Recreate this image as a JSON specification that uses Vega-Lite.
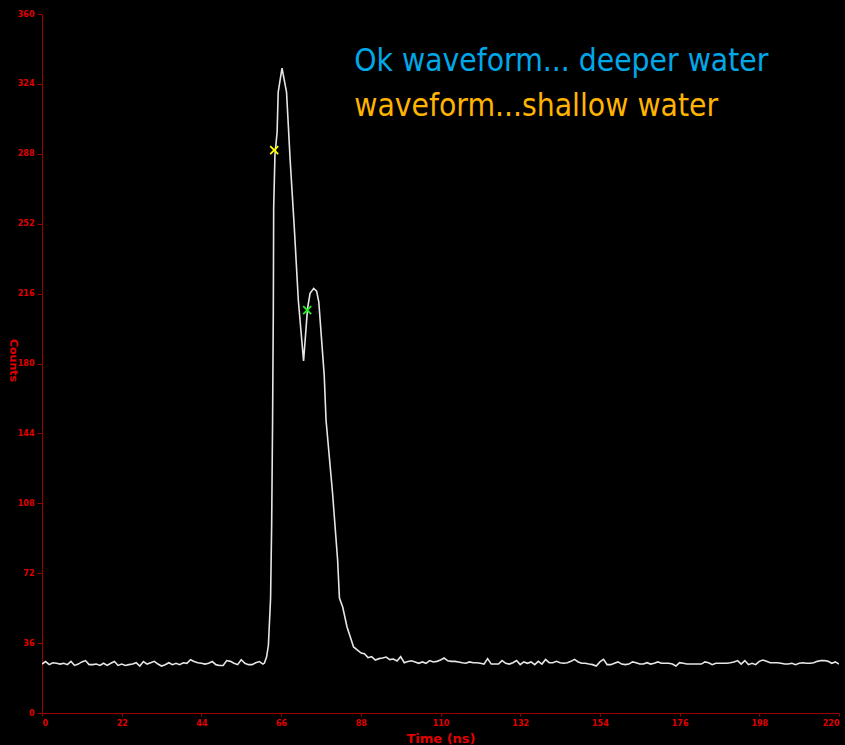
{
  "$schema": "https://vega.github.io/schema/vega-lite/v6.json",
  "autosize": {"type": "none"},
  "width": 797,
  "height": 699,
  "padding": {"left": 42, "top": 14, "right": 6, "bottom": 32},
  "background": "#000000",
  "config": {
    "view": {"stroke": null},
    "axis": {
      "grid": false,
      "domainColor": "#990000",
      "tickColor": "#990000",
      "labelColor": "#e00000",
      "labelFont": "DejaVu Sans",
      "labelFontWeight": "bold",
      "labelFontSize": 8,
      "titleColor": "#e00000",
      "titleFont": "DejaVu Sans",
      "titleFontWeight": "bold"
    }
  },
  "datasets": {
    "wave": [
      {"t":0,"c":25.2},{"t":1,"c":26.5},{"t":2,"c":24.9},{"t":3,"c":25.9},{"t":4,"c":25.6},{"t":5,"c":25.2},{"t":6,"c":25.6},{"t":7,"c":24.9},{"t":8,"c":26.6},{"t":9,"c":24.5},
      {"t":10,"c":25.2},{"t":11,"c":26.3},{"t":12,"c":27.0},{"t":13,"c":24.9},{"t":14,"c":24.9},{"t":15,"c":25.2},{"t":16,"c":24.5},{"t":17,"c":25.6},{"t":18,"c":24.5},{"t":19,"c":25.6},
      {"t":20,"c":26.5},{"t":21,"c":24.5},{"t":22,"c":25.2},{"t":23,"c":24.5},{"t":24,"c":24.9},{"t":25,"c":25.2},{"t":26,"c":25.9},{"t":27,"c":24.2},{"t":28,"c":26.5},{"t":29,"c":25.2},
      {"t":30,"c":25.9},{"t":31,"c":26.6},{"t":32,"c":25.2},{"t":33,"c":24.2},{"t":34,"c":24.9},{"t":35,"c":25.9},{"t":36,"c":24.9},{"t":37,"c":25.6},{"t":38,"c":24.9},{"t":39,"c":25.9},
      {"t":40,"c":25.6},{"t":41,"c":27.4},{"t":42,"c":26.5},{"t":43,"c":25.9},{"t":44,"c":25.6},{"t":45,"c":25.2},{"t":46,"c":25.6},{"t":47,"c":26.5},{"t":48,"c":24.9},{"t":49,"c":24.5},
      {"t":50,"c":24.5},{"t":51,"c":27.0},{"t":52,"c":26.6},{"t":53,"c":25.6},{"t":54,"c":24.9},{"t":55,"c":27.4},{"t":56,"c":25.6},{"t":57,"c":24.9},{"t":58,"c":24.9},{"t":59,"c":25.9},
      {"t":60,"c":26.5},{"t":61,"c":25.2},{"t":61.4,"c":25.7},{"t":62.0,"c":28.9},{"t":62.5,"c":35.0},{"t":63.1,"c":59.2},{"t":63.4,"c":97.8},{"t":63.65,"c":150.9},{"t":63.85,"c":206.5},{"t":63.95,"c":260.0},
      {"t":64.3,"c":287.3},{"t":64.9,"c":299.2},{"t":65.2,"c":319.8},{"t":66.25,"c":332.1},{"t":67.5,"c":319.8},{"t":68.5,"c":284.8},{"t":69.65,"c":249.7},{"t":70.75,"c":212.7},{"t":72.2,"c":181.3},{"t":73.3,"c":208.4},
      {"t":74.0,"c":216.1},{"t":75.0,"c":218.7},{"t":75.8,"c":217.3},{"t":76.4,"c":211.8},{"t":77.9,"c":174.0},{"t":78.4,"c":150.9},{"t":80.2,"c":113.3},{"t":81.6,"c":78.8},{"t":82.1,"c":59.2},{"t":83.0,"c":54.6},
      {"t":84.2,"c":44.3},{"t":86.0,"c":34.0},{"t":88.1,"c":30.9},{"t":89,"c":30.5},{"t":90,"c":28.5},{"t":91,"c":29.0},{"t":92,"c":27.3},{"t":93,"c":28.0},{"t":94,"c":28.3},{"t":95,"c":28.8},
      {"t":96,"c":27.5},{"t":97,"c":27.8},{"t":98,"c":26.8},{"t":99,"c":29.0},{"t":100,"c":25.9},{"t":101,"c":26.5},{"t":102,"c":26.9},{"t":103,"c":26.3},{"t":104,"c":25.6},{"t":105,"c":26.3},
      {"t":106,"c":25.6},{"t":107,"c":27.0},{"t":108,"c":26.3},{"t":109,"c":26.6},{"t":110,"c":27.3},{"t":111,"c":28.3},{"t":112,"c":26.9},{"t":113,"c":26.6},{"t":114,"c":26.6},{"t":115,"c":26.3},
      {"t":116,"c":25.9},{"t":117,"c":25.6},{"t":118,"c":26.3},{"t":119,"c":25.9},{"t":120,"c":25.9},{"t":121,"c":25.6},{"t":122,"c":25.2},{"t":123,"c":28.0},{"t":124,"c":25.2},{"t":125,"c":25.2},
      {"t":126,"c":25.2},{"t":127,"c":27.0},{"t":128,"c":25.6},{"t":129,"c":25.2},{"t":130,"c":25.9},{"t":131,"c":27.0},{"t":132,"c":24.9},{"t":133,"c":26.3},{"t":134,"c":25.6},{"t":135,"c":26.3},
      {"t":136,"c":24.9},{"t":137,"c":26.6},{"t":138,"c":25.2},{"t":139,"c":27.6},{"t":140,"c":25.9},{"t":141,"c":25.9},{"t":142,"c":26.6},{"t":143,"c":25.9},{"t":144,"c":25.6},{"t":145,"c":25.9},
      {"t":146,"c":26.6},{"t":147,"c":27.6},{"t":148,"c":26.3},{"t":149,"c":25.6},{"t":150,"c":25.6},{"t":151,"c":25.2},{"t":152,"c":24.9},{"t":153,"c":24.2},{"t":154,"c":26.3},{"t":155,"c":27.6},
      {"t":156,"c":24.9},{"t":157,"c":24.9},{"t":158,"c":25.6},{"t":159,"c":26.3},{"t":160,"c":25.2},{"t":161,"c":24.9},{"t":162,"c":25.2},{"t":163,"c":26.3},{"t":164,"c":25.9},{"t":165,"c":25.2},
      {"t":166,"c":25.2},{"t":167,"c":25.9},{"t":168,"c":25.2},{"t":169,"c":25.6},{"t":170,"c":26.3},{"t":171,"c":25.6},{"t":172,"c":25.6},{"t":173,"c":25.6},{"t":174,"c":25.2},{"t":175,"c":24.2},
      {"t":176,"c":25.9},{"t":177,"c":25.6},{"t":178,"c":25.2},{"t":179,"c":25.2},{"t":180,"c":25.2},{"t":181,"c":25.2},{"t":182,"c":25.2},{"t":183,"c":26.3},{"t":184,"c":25.9},{"t":185,"c":24.9},
      {"t":186,"c":25.6},{"t":187,"c":25.6},{"t":188,"c":25.6},{"t":189,"c":25.6},{"t":190,"c":25.9},{"t":191,"c":26.3},{"t":192,"c":27.0},{"t":193,"c":25.2},{"t":194,"c":27.0},{"t":195,"c":24.9},
      {"t":196,"c":25.6},{"t":197,"c":24.9},{"t":198,"c":26.6},{"t":199,"c":27.3},{"t":200,"c":26.6},{"t":201,"c":25.9},{"t":202,"c":25.9},{"t":203,"c":25.9},{"t":204,"c":25.6},{"t":205,"c":25.2},
      {"t":206,"c":25.2},{"t":207,"c":25.6},{"t":208,"c":24.9},{"t":209,"c":25.6},{"t":210,"c":25.9},{"t":211,"c":25.6},{"t":212,"c":25.6},{"t":213,"c":25.9},{"t":214,"c":26.6},{"t":215,"c":27.0},
      {"t":216,"c":27.0},{"t":217,"c":26.6},{"t":218,"c":25.6},{"t":219,"c":26.3},{"t":220,"c":25.2}
    ],
    "picks": [
      {"t": 64.1, "c": 289.9, "kind": "first"},
      {"t": 73.2, "c": 207.5, "kind": "second"}
    ],
    "notes": [
      {"t": 86.2, "c": 330.6, "text": "Ok waveform... deeper water", "kind": "deep"},
      {"t": 86.2, "c": 307.4, "text": "waveform...shallow water", "kind": "shallow"}
    ]
  },
  "layer": [
    {
      "data": {"name": "wave"},
      "mark": {"type": "line", "color": "#e6e6e6", "strokeWidth": 1.6, "clip": true},
      "encoding": {
        "x": {
          "field": "t", "type": "quantitative",
          "scale": {"domain": [0, 220], "nice": false, "zero": false},
          "axis": {"values": [0,22,44,66,88,110,132,154,176,198,220], "title": "Time (ns)", "titleFontSize": 13, "tickSize": 3, "labelPadding": 3, "titlePadding": 5}
        },
        "y": {
          "field": "c", "type": "quantitative",
          "scale": {"domain": [0, 360], "nice": false},
          "axis": {"values": [0,36,72,108,144,180,216,252,288,324,360], "title": "Counts", "titleFontSize": 11, "titleAngle": 90, "titleX": -30, "titleY": 346, "titleAlign": "center", "titleBaseline": "middle", "tickSize": 5, "labelPadding": 3}
        }
      }
    },
    {
      "data": {"name": "picks"},
      "mark": {"type": "point", "shape": "M-1,-1L1,1M-1,1L1,-1", "filled": false, "size": 64, "strokeWidth": 1.8, "opacity": 1},
      "encoding": {
        "x": {"field": "t", "type": "quantitative"},
        "y": {"field": "c", "type": "quantitative"},
        "color": {"field": "kind", "type": "nominal", "scale": {"domain": ["first", "second"], "range": ["#ffff00", "#22ee22"]}, "legend": null}
      }
    },
    {
      "data": {"name": "notes"},
      "mark": {"type": "text", "align": "left", "baseline": "alphabetic", "font": "DejaVu Sans Condensed", "fontWeight": "normal", "fontSize": 31.5},
      "encoding": {
        "x": {"field": "t", "type": "quantitative"},
        "y": {"field": "c", "type": "quantitative"},
        "text": {"field": "text"},
        "color": {"field": "kind", "type": "nominal", "scale": {"domain": ["deep", "shallow"], "range": ["#00a8e8", "#ffb400"]}, "legend": null}
      }
    }
  ],
  "resolve": {"scale": {"color": "independent"}}
}
